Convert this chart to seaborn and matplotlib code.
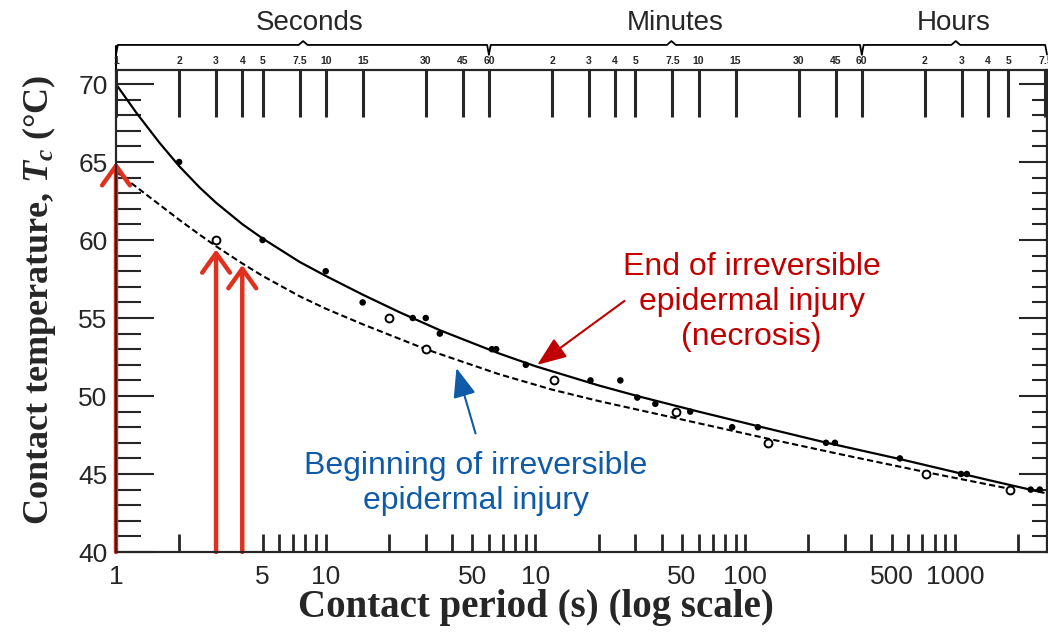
import numpy as np
import pandas as pd
import matplotlib
matplotlib.use('Agg')
import matplotlib.pyplot as plt
from matplotlib.ticker import FixedLocator, NullFormatter, NullLocator
import seaborn as sns

# fitted curves (contact period in s, temperature in C)
end_t = [1, 1.25, 1.6, 2, 2.5, 3, 4, 5, 7.5, 10, 15, 22.5, 35, 67, 100,
         200, 310, 600, 1190, 2400, 5500, 14600, 26500]
end_T = [70.0, 68.16, 66.29, 64.74, 63.38, 62.39, 61.02, 60.1, 58.6, 57.7, 56.5, 55.37,
         54.22, 52.73, 51.91, 50.68, 49.98, 49.0, 48.02, 47.03, 45.95, 44.6, 43.8]
begin_t = [1, 1.25, 1.6, 2, 2.5, 3, 4, 5, 7.5, 10, 15, 30, 67, 120, 200, 460, 1290, 3000,
           7280, 18300]
begin_T = [64.4, 63.4, 62.3, 61.3, 60.35, 59.6, 58.5, 57.7, 56.4, 55.6, 54.6, 53.0, 51.4,
           50.41, 49.68, 48.6, 47.26, 46.2, 45.12, 44.05]

# measured points: filled dots and open rings
dot_t = [2, 5, 10, 15, 26, 30, 35, 62, 65, 90, 183, 254, 306, 373, 547, 867, 1150,
         2430, 2680, 5470, 10700, 11400, 23000, 25400]
dot_T = [65, 60, 58, 56, 55, 55, 54, 53, 53, 52, 51, 51, 49.9, 49.5, 49, 48, 48,
         47, 47, 46, 45, 45, 44, 44]
ring_t = [3, 20, 30, 122, 470, 1290, 7280, 18300]
ring_T = [60, 55, 53, 51, 49, 47, 45, 44]

# red arrows (times marked on the dashed curve)
arrow_t = [1, 3, 4]
arrow_T = [65, 59.4, 58.4]

# bottom axis (labels as printed in the figure)
bottom_pos = [1, 5, 10, 50, 100, 500, 1000, 5000, 10000]
bottom_lab = ['1', '5', '10', '50', '10', '50', '100', '500', '1000']
bottom_minor = [2, 3, 4, 6, 7, 8, 9, 20, 30, 40, 60, 70, 80, 90, 200, 300, 400, 600, 700,
                800, 900, 2000, 3000, 4000, 6000, 7000, 8000, 9000, 20000]

# top time scale
top_pos = [1, 2, 3, 4, 5, 7.5, 10, 15, 30, 45, 60,
           120, 180, 240, 300, 450, 600, 900, 1800, 2700, 3600,
           7200, 10800, 14400, 18000, 27000]
top_lab = ['1', '2', '3', '4', '5', '7.5', '10', '15', '30', '45', '60',
           '2', '3', '4', '5', '7.5', '10', '15', '30', '45', '60',
           '2', '3', '4', '5', '7.5']
groups = ['Seconds', 'Minutes', 'Hours']
group_span = [(1, 7.8, 60), (60, 445, 3600), (3600, 10100, 27500)]
group_text_x = [8.4, 464, 9850]

sns.set_style('ticks')
plt.rcParams['font.family'] = ['Liberation Sans', 'DejaVu Sans']
plt.rcParams['mathtext.fontset'] = 'custom'
plt.rcParams['mathtext.it'] = 'Liberation Serif:italic:bold'
plt.rcParams['mathtext.rm'] = 'Liberation Serif:bold'

fig = plt.figure(figsize=(10.48, 6.33), dpi=100)
ax = fig.add_axes([116 / 1048, 81 / 633, 931 / 1048, 482 / 633])

sns.lineplot(x=end_t, y=end_T, ax=ax, color='black', lw=1.6, sort=False)
sns.lineplot(x=begin_t, y=begin_T, ax=ax, color='black', lw=1.5, sort=False,
             linestyle=(0, (3, 1.6)))
sns.scatterplot(x=dot_t, y=dot_T, ax=ax, color='black', s=22, edgecolor='none', zorder=4)
sns.scatterplot(x=ring_t, y=ring_T, ax=ax, facecolor='white', edgecolor='black', s=32,
                linewidth=1.4, zorder=4)

ax.set_xscale('log')
ax.set_xlim(1, 27500)
ax.set_ylim(40, 70.9)

for sp in ax.spines.values():
    sp.set_linewidth(1.5)
    sp.set_color('black')

ax.xaxis.set_major_locator(FixedLocator(bottom_pos))
ax.set_xticklabels(bottom_lab)
ax.xaxis.set_minor_locator(FixedLocator(bottom_minor))
ax.xaxis.set_minor_formatter(NullFormatter())
ax.tick_params(axis='x', which='both', direction='in', length=13, width=2, pad=9,
               labelsize=19, top=False)

ax.set_yticks(np.arange(40, 71, 5))
ax.yaxis.set_minor_locator(FixedLocator(np.arange(40, 71, 1)))
ax.tick_params(axis='y', which='major', direction='in', length=27, width=1.5, pad=6,
               labelsize=19, right=False)
ax.tick_params(axis='y', which='minor', direction='in', length=18, width=1.5, right=False)

sec = ax.secondary_yaxis('right')
sec.set_yticks(np.arange(40, 71, 5))
sec.yaxis.set_minor_locator(FixedLocator(np.arange(40, 71, 1)))
sec.tick_params(axis='y', which='major', direction='in', length=20, width=1.5, labelright=False)
sec.tick_params(axis='y', which='minor', direction='in', length=11, width=1.5)
sec.spines['right'].set_linewidth(1.5)

top = ax.twiny()
top.set_xscale('log')
top.set_xlim(ax.get_xlim())
top.xaxis.set_major_locator(FixedLocator(top_pos))
top.xaxis.set_minor_locator(NullLocator())
top.set_xticklabels(top_lab, fontweight='bold', fontsize=7.5)
top.tick_params(axis='x', direction='in', length=34, width=2.2, pad=3)
for sp in top.spines.values():
    sp.set_linewidth(1.5)

# braces over the top scale
tr = ax.get_xaxis_transform()
for (a, p, b), name, tx in zip(group_span, groups, group_text_x):
    xs = [a, a * 1.02, p / 1.05, p, p * 1.05, b / 1.02, b]
    ys = [1.032, 1.052, 1.052, 1.06, 1.052, 1.052, 1.032]
    ax.plot(xs, ys, color='black', lw=1.3, transform=tr, clip_on=False)
    ax.text(tx, 1.097, name, transform=tr, ha='center', va='center', fontsize=20)
ax.plot([1, 1], [1.0, 1.05], color='black', lw=1.5, transform=tr, clip_on=False)

# red arrows from the axis up to the dashed curve
for t, T in zip(arrow_t, arrow_T):
    ax.annotate('', xy=(t, T), xytext=(t, 40), zorder=6,
                arrowprops=dict(arrowstyle='->,head_length=0.7,head_width=0.5',
                                color='#E0301E', lw=3.2, mutation_scale=20,
                                shrinkA=0, shrinkB=0))

# annotations
red = '#C00000'
blue = '#0F5BA8'
ax.text(1075, 56.0, 'End of irreversible\nepidermal injury\n(necrosis)', ha='center',
        va='center', color=red, fontsize=23, linespacing=1.22)
ax.annotate('', xy=(102, 52.0), xytext=(266, 56.1),
            arrowprops=dict(arrowstyle='-|>,head_length=0.9,head_width=0.35',
                            color=red, lw=1.5, mutation_scale=20, shrinkA=0, shrinkB=0))
ax.text(52, 44.4, 'Beginning of irreversible\nepidermal injury', ha='center',
        va='center', color=blue, fontsize=23, linespacing=1.22)
ax.annotate('', xy=(42, 51.8), xytext=(51.8, 47.6),
            arrowprops=dict(arrowstyle='-|>,head_length=0.9,head_width=0.35',
                            color=blue, lw=1.5, mutation_scale=20, shrinkA=0, shrinkB=0))

ax.set_xlabel('Contact period (s) (log scale)', family='Liberation Serif',
              fontweight='bold', fontsize=28)
ax.xaxis.set_label_coords(0.451, -0.115)
ax.xaxis.label.set_va('center')
ax.set_ylabel('Contact temperature, $T_c$ (°C)', family='Liberation Serif',
              fontweight='bold', fontsize=26)
ax.yaxis.set_label_coords(-0.083, 0.523)
ax.yaxis.label.set_va('center')

plt.savefig('out.png', dpi=100)
